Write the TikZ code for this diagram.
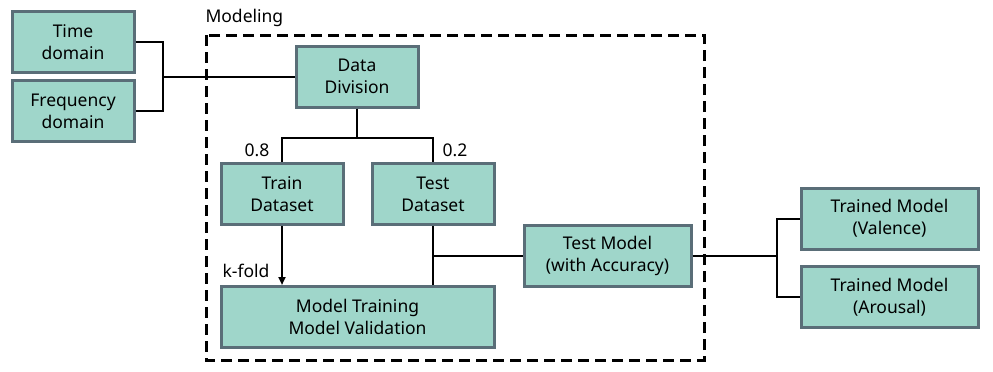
\documentclass[tikz,border=0pt]{standalone}
\usepackage{fontspec}
\setmainfont{Noto Sans}
\usepackage{xcolor}
\usetikzlibrary{arrows.meta}
\definecolor{boxfill}{HTML}{9FD6CA}
\definecolor{boxline}{HTML}{5A6E78}

\begin{document}
\begin{tikzpicture}[
  x=1pt, y=-1pt,
  every node/.style={font=\fontsize{17.5}{22}\selectfont},
  box/.style={draw=boxline, fill=boxfill, line width=3pt, minimum height=61pt, inner sep=2pt, align=center},
  link/.style={line width=2pt},
  frame/.style={line width=3pt, dash pattern=on 11pt off 6pt}
]
\useasboundingbox (0,0) rectangle (993,372);
% modeling frame
\draw[frame] (206,35) rectangle (704,360);
\node[anchor=west] (lab) at (202,18) {Modeling};
% inputs
\node[box, minimum width=122pt] (time) at (73,42) {Time\\domain};
\node[box, minimum width=122pt] (freq) at (73,111) {Frequency\\domain};
% inside the frame
\node[box, minimum width=122pt] (div) at (357,76.5) {Data\\Division};
\node[box, minimum width=122pt] (train) at (282,194) {Train\\Dataset};
\node[box, minimum width=122pt] (test) at (433,194) {Test\\Dataset};
\node[box, minimum width=273pt] (mtrain) at (357.5,317) {Model Training\\Model Validation};
\node[box, minimum width=167pt] (testm) at (607.5,256) {Test Model\\(with Accuracy)};
% outputs
\node[box, minimum width=177pt] (val) at (889.5,218.5) {Trained Model\\(Valence)};
\node[box, minimum width=177pt] (aro) at (889.5,297) {Trained Model\\(Arousal)};
% labels
\node (p8) at (257,150) {0.8};
\node (p2) at (455,150) {0.2};
\node (kf) at (246,271) {k-fold};
% connectors
\draw[link] (time.east) -- ++(27,0) |- (div.west);
\draw[link] (freq.east) -- ++(27,0) |- (div.west);
\draw[link] (div.south) -- ++(0,29) -| (train.north);
\draw[link] (div.south) -- ++(0,29) -| (test.north);
\draw[link, -{Triangle[length=8pt,width=7pt]}] (train.south) -- (train.south |- mtrain.north);
\draw[link] (test.south) -- (test.south |- mtrain.north);
\draw[link] (testm.west) -- (testm.west -| test.south);
\draw[link] (testm.east) -- ++(84,0) |- (val.west);
\draw[link] (testm.east) -- ++(84,0) |- (aro.west);
\end{tikzpicture}
\end{document}
